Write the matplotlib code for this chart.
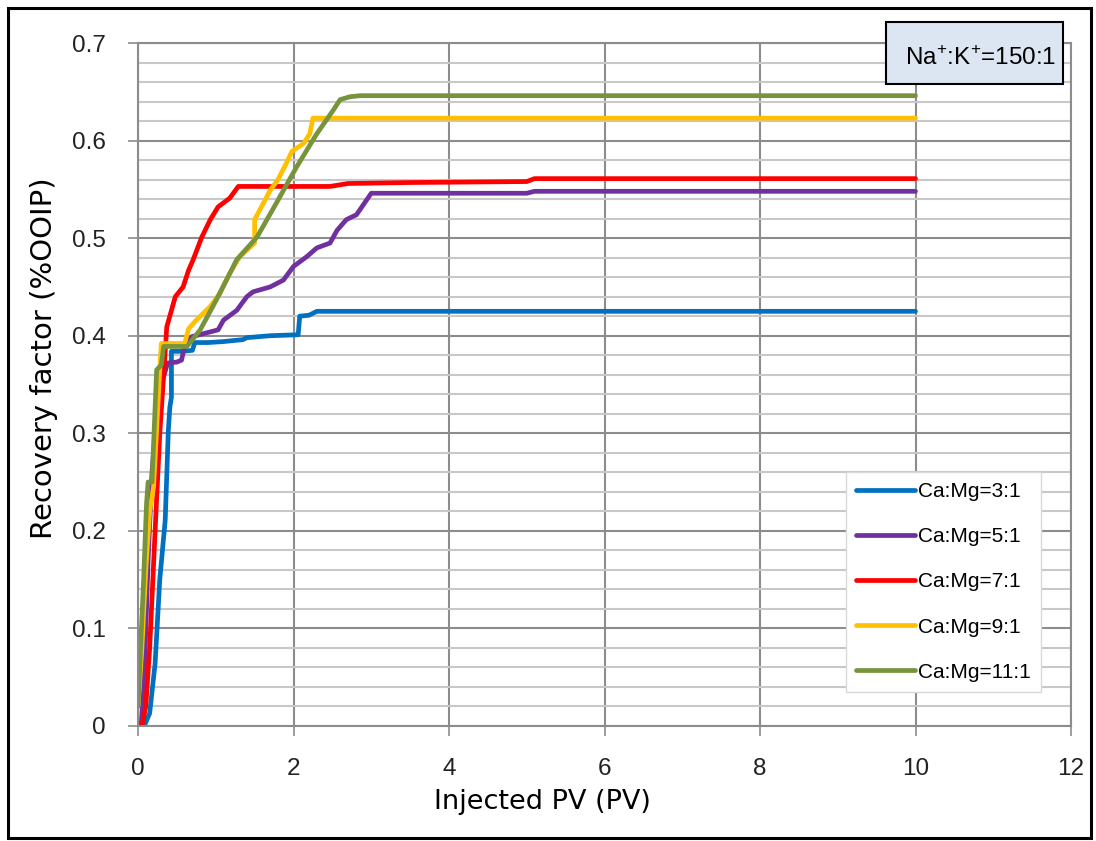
import matplotlib
matplotlib.use("Agg")
import matplotlib.pyplot as plt
from matplotlib.patches import Rectangle

# Recovery factor vs injected PV
pv_31 = [0.08, 0.15, 0.22, 0.28, 0.35, 0.39, 0.41, 0.43, 0.43, 0.55, 0.70, 0.73, 0.9, 1.1, 1.35, 1.4, 1.7, 2.06, 2.08, 2.2, 2.3, 10]
rf_31 = [0, 0.013, 0.064, 0.15, 0.211, 0.303, 0.327, 0.337, 0.384, 0.384, 0.385, 0.393, 0.393, 0.394, 0.396, 0.398, 0.400, 0.401, 0.420, 0.421, 0.425, 0.425]

pv_51 = [0.04, 0.08, 0.13, 0.18, 0.25, 0.32, 0.38, 0.5, 0.56, 0.6, 0.69, 1.03, 1.1, 1.27, 1.4, 1.48, 1.7, 1.87, 2.0,
         2.17, 2.3, 2.47, 2.56, 2.68, 2.81, 3.0, 5.0, 5.1, 10]
rf_51 = [0, 0.05, 0.17, 0.26, 0.33, 0.355, 0.372, 0.373, 0.375, 0.389, 0.399, 0.406, 0.416, 0.426, 0.44, 0.445, 0.45,
         0.457, 0.471, 0.481, 0.49, 0.495, 0.508, 0.519, 0.524, 0.546, 0.546, 0.548, 0.548]

pv_71 = [0.05, 0.1, 0.15, 0.22, 0.28, 0.33, 0.37, 0.48, 0.58, 0.65, 0.71, 0.82, 0.93, 1.03, 1.18, 1.29, 2.47, 2.7, 3.5, 5.0, 5.1, 10]
rf_71 = [0, 0.02, 0.08, 0.2, 0.3, 0.36, 0.409, 0.44, 0.45, 0.467, 0.478, 0.501, 0.519, 0.532, 0.541, 0.553, 0.553,
         0.556, 0.557, 0.558, 0.561, 0.561]

pv_91 = [0.0, 0.05, 0.1, 0.15, 0.2, 0.28, 0.30, 0.60, 0.65, 0.75, 0.93, 1.05, 1.18, 1.31, 1.50, 1.50, 1.70, 1.80,
         1.91, 1.98, 2.13, 2.21, 2.25, 10]
rf_91 = [0.02, 0.08, 0.16, 0.22, 0.245, 0.365, 0.392, 0.392, 0.407, 0.416, 0.43, 0.443, 0.464, 0.481, 0.495, 0.519,
         0.549, 0.56, 0.577, 0.589, 0.597, 0.607, 0.623, 0.623]

pv_111 = [0.0, 0.07, 0.11, 0.13, 0.18, 0.24, 0.30, 0.33, 0.63, 0.80, 1.01, 1.27, 1.53, 1.78, 2.04, 2.30, 2.51, 2.60, 2.73, 2.86, 10]
rf_111 = [0.02, 0.146, 0.228, 0.25, 0.25, 0.365, 0.37, 0.389, 0.389, 0.406, 0.437, 0.478, 0.501, 0.536, 0.573, 0.607,
          0.631, 0.642, 0.645, 0.646, 0.646]

labels = ["Ca:Mg=3:1", "Ca:Mg=5:1", "Ca:Mg=7:1", "Ca:Mg=9:1", "Ca:Mg=11:1"]
colors = ["#0070C0", "#7030A0", "#FF0000", "#FFC000", "#77933C"]
series = [(pv_31, rf_31), (pv_51, rf_51), (pv_71, rf_71), (pv_91, rf_91), (pv_111, rf_111)]

plt.rcParams["mathtext.fontset"] = "custom"
plt.rcParams["mathtext.rm"] = "Liberation Sans"

W, H = 1096, 841
fig = plt.figure(figsize=(W / 100, H / 100), dpi=100)
ax = fig.add_axes([138 / W, 1 - 726 / H, (1071 - 138) / W, (726 - 43) / H])

for (x, y), lab, c in zip(series, labels, colors):
    ax.plot(x, y, color=c, lw=3.4, label=lab, solid_capstyle="round", solid_joinstyle="round")

ax.set_xlim(0, 12)
ax.set_ylim(0, 0.7)
ax.set_xticks(range(0, 13, 2))
ax.set_yticks([i / 10 for i in range(8)])
ax.set_yticklabels(["0"] + ["%.1f" % (i / 10) for i in range(1, 8)])
ax.set_yticks([i / 100 for i in range(0, 71, 2)], minor=True)

ax.grid(which="minor", axis="y", color="#c8c8c8", lw=1.5)
ax.grid(which="major", color="#8c8c8c", lw=1.5)
ax.set_axisbelow(True)
for s in ax.spines.values():
    s.set_color("#8c8c8c")
    s.set_linewidth(1.5)

ax.tick_params(which="major", direction="out", length=7, width=1.2, color="#8c8c8c",
               labelsize=17.5, labelcolor="#222222", pad=16)
ax.tick_params(which="minor", length=0)
for t in ax.get_xticklabels() + ax.get_yticklabels():
    t.set_fontfamily("Liberation Sans")

ax.set_xlabel("Injected PV (PV)", fontsize=19.5)
ax.set_ylabel("Recovery factor (%OOIP)", fontsize=21)
ax.xaxis.set_label_coords(0.433, -0.092)
ax.yaxis.set_label_coords(-0.086, 0.539)

leg = ax.legend(loc="upper left", bbox_to_anchor=(0.7588, 0.3719), borderaxespad=0,
                prop={"family": "Liberation Sans", "size": 15}, handlelength=2.8,
                handletextpad=0.15, labelspacing=1.25, borderpad=0.5, fancybox=False,
                framealpha=1, edgecolor="#d9d9d9")
for line in leg.get_lines():
    line.set_linewidth(3.4)

# annotation box in the top right
fig.add_artist(Rectangle((886 / W, 1 - 84 / H), 177 / W, 62 / H, transform=fig.transFigure,
                         facecolor="#DCE6F2", edgecolor="black", lw=1.5))
fig.text(981 / W, 1 - 65 / H, r"Na$^{+}$:K$^{+}$=150:1", ha="center", va="baseline",
         fontsize=17.5, family="Liberation Sans")

# outer frame
fig.add_artist(Rectangle((8 / W, 1 - 838 / H), (1091 - 8) / W, (838 - 8) / H, transform=fig.transFigure,
                         facecolor="none", edgecolor="black", lw=2.2))

fig.savefig("out.png", dpi=100)
